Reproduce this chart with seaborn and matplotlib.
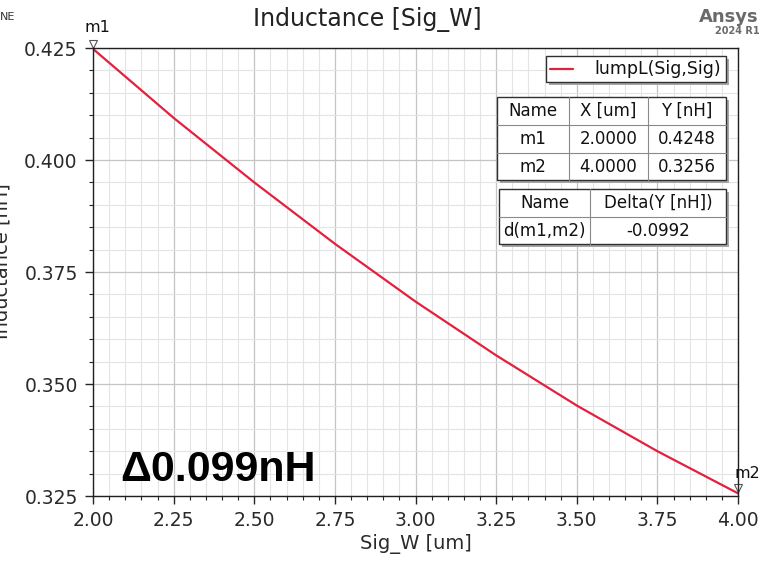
import pandas as pd
import matplotlib.pyplot as plt
import matplotlib.transforms as mtransforms
from matplotlib.patches import Rectangle
from matplotlib.lines import Line2D
from matplotlib.ticker import MultipleLocator
import seaborn as sns

# swept width and extracted inductance
sig_w = [2.00, 2.25, 2.50, 2.75, 3.00, 3.25, 3.50, 3.75, 4.00]
lump_l = [0.4248, 0.4094, 0.3950, 0.3813, 0.3684, 0.3564, 0.3452, 0.3350, 0.3256]

trace_name = "lumpL(Sig,Sig)"
marker_names = ["m1", "m2"]
marker_x = [2.0, 4.0]
marker_y = [0.4248, 0.3256]
delta_name = "d(m1,m2)"
delta_y = -0.0992
note_text = "\u03940.099nH"

W, H = 777, 562

sns.set_style("white")
plt.rcParams["font.family"] = ["DejaVu Sans"]

df = pd.DataFrame({"Sig_W": sig_w, "L": lump_l})

fig = plt.figure(figsize=(W / 100, H / 100), dpi=100)
ax = fig.add_axes([93 / W, 1 - 496 / H, (738 - 93) / W, (496 - 48) / H])

sns.lineplot(data=df, x="Sig_W", y="L", ax=ax, color="#e3203d", linewidth=1.6)

ax.set_xlim(2.0, 4.0)
ax.set_ylim(0.325, 0.425)
ax.xaxis.set_major_locator(MultipleLocator(0.25))
ax.xaxis.set_minor_locator(MultipleLocator(0.05))
ax.yaxis.set_major_locator(MultipleLocator(0.025))
ax.yaxis.set_minor_locator(MultipleLocator(0.005))
ax.xaxis.set_major_formatter(lambda v, p: f"{v:.2f}")
ax.yaxis.set_major_formatter(lambda v, p: f"{v:.3f}")
ax.grid(which="major", color="#c4c4c4", linewidth=0.9)
ax.grid(which="minor", color="#e4e4e4", linewidth=0.8)
ax.set_axisbelow(True)
ax.tick_params(which="major", direction="out", length=6, width=1, labelsize=13.5,
               labelcolor="#2a2a2a", pad=5, left=True, bottom=True)
ax.tick_params(which="minor", direction="out", length=3, width=0.8, left=True, bottom=True)
for s in ax.spines.values():
    s.set_color("#202020")
    s.set_linewidth(1.0)
ax.set_xlabel("Sig_W [um]", fontsize=14, color="#2a2a2a", labelpad=3)
ax.set_ylabel("")

# markers m1 / m2 sit just above their points
up = mtransforms.offset_copy(ax.transData, fig=fig, y=3.5, units="points")
for name, mx, my in zip(marker_names, marker_x, marker_y):
    ax.plot(mx, my, marker="v", markersize=6, markerfacecolor="white",
            markeredgecolor="#555555", markeredgewidth=0.8, transform=up, clip_on=False)
lab1 = mtransforms.offset_copy(ax.transData, fig=fig, x=3, y=10, units="points")
ax.text(marker_x[0], marker_y[0], marker_names[0], transform=lab1, fontsize=11.5,
        ha="center", va="bottom", color="#111111", clip_on=False)
lab2 = mtransforms.offset_copy(ax.transData, fig=fig, x=7, y=9, units="points")
ax.text(marker_x[1], marker_y[1], marker_names[1], transform=lab2, fontsize=11.5,
        ha="center", va="bottom", color="#111111", clip_on=False)


def fx(x):
    return x / W


def fy(y):
    return 1 - y / H


def box(x0, y0, x1, y1):
    fig.add_artist(Rectangle((fx(x0 + 3), fy(y1 + 3)), (x1 - x0) / W, (y1 - y0) / H,
                             transform=fig.transFigure, facecolor="#a6a6a6", edgecolor="none"))
    fig.add_artist(Rectangle((fx(x0), fy(y1)), (x1 - x0) / W, (y1 - y0) / H,
                             transform=fig.transFigure, facecolor="white",
                             edgecolor="#303030", linewidth=1.0))


def table(xs, ys, rows):
    box(xs[0], ys[0], xs[-1], ys[-1])
    for x in xs[1:-1]:
        fig.add_artist(Line2D([fx(x), fx(x)], [fy(ys[0]), fy(ys[-1])],
                              transform=fig.transFigure, color="#8a8a8a", linewidth=0.8))
    for y in ys[1:-1]:
        fig.add_artist(Line2D([fx(xs[0]), fx(xs[-1])], [fy(y), fy(y)],
                              transform=fig.transFigure, color="#8a8a8a", linewidth=0.8))
    for r, row in enumerate(rows):
        for c, cell in enumerate(row):
            fig.text(fx((xs[c] + xs[c + 1]) / 2), fy((ys[r] + ys[r + 1]) / 2), cell,
                     ha="center", va="center", fontsize=12, color="#111111")


# legend
box(546, 56, 726, 82)
fig.add_artist(Line2D([fx(550), fx(573)], [fy(69), fy(69)], transform=fig.transFigure,
                      color="#e3203d", linewidth=1.6))
fig.text(fx(721), fy(69), trace_name, ha="right", va="center", fontsize=12.5, color="#111111")

rows1 = [["Name", "X [um]", "Y [nH]"]]
for name, mx, my in zip(marker_names, marker_x, marker_y):
    rows1.append([name, f"{mx:.4f}", f"{my:.4f}"])
table([497, 569, 648, 726], [97, 125, 153, 180], rows1)
table([499, 590, 726], [189, 217, 244],
      [["Name", "Delta(Y [nH])"], [delta_name, f"{delta_y:.4f}"]])

# header texts
fig.text(fx(367), fy(20), "Inductance [Sig_W]", ha="center", va="center",
         fontsize=17, color="#222222")
fig.text(fx(759), fy(17), "Ansys", ha="right", va="center", fontsize=13,
         fontweight="bold", color="#6a6a6a")
fig.text(fx(760), fy(31), "2024 R1", ha="right", va="center", fontsize=7,
         fontweight="bold", color="#6a6a6a")
fig.text(fx(0), fy(17), "NE", ha="left", va="center", fontsize=8, color="#333333")
fig.text(fx(12), fy(261), "Inductance [nH]", rotation=90, ha="right", va="center",
         fontsize=14, color="#2a2a2a")

fig.text(fx(120), fy(470), note_text, ha="left", va="center", fontsize=31,
         fontweight="bold", color="black",
         family=["Liberation Sans Narrow", "Liberation Sans", "DejaVu Sans"])

fig.savefig("out.png", dpi=100)
